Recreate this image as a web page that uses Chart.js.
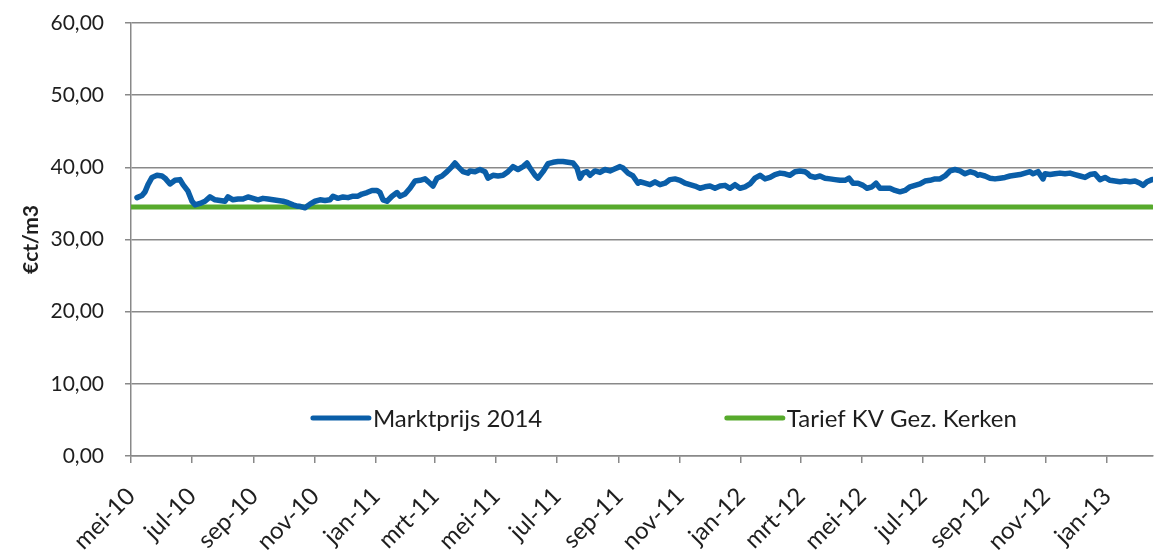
<!DOCTYPE html>
<html lang="nl">
<head>
<meta charset="utf-8">
<title>Marktprijs gas</title>
<script src="https://cdn.jsdelivr.net/npm/chart.js@4"></script>
<style>
    body { margin: 0; background: #fff; }
    #wrap { width: 1157px; height: 551px; position: relative; }
</style>
</head>
<body>
<div id="wrap"><canvas id="prijsChart"></canvas></div>
<script>
const dagen = [
    6, 11, 14, 17, 21, 26, 31, 34, 39, 44, 49, 52, 57, 61, 64, 69, 74, 79, 84, 89,
    94, 97, 102, 107, 112, 117, 122, 127, 132, 137, 142, 147, 152, 157, 162, 167,
    169, 174, 179, 184, 189, 194, 199, 202, 207, 212, 217, 222, 227, 231, 236, 241,
    246, 249, 252, 256, 261, 266, 269, 274, 279, 284, 289, 294, 299, 302, 306, 311,
    316, 321, 324, 327, 332, 337,
    339, 344, 349, 354, 357, 362, 367, 372, 377, 382, 387, 392, 396, 399, 404, 407,
    412, 417, 422, 427, 432, 437, 442, 446, 449, 452, 456, 459, 464, 469, 474, 479,
    484, 489, 492, 497, 502, 507,
    509, 514, 519, 524, 529, 534, 539, 544, 549, 554, 559, 564, 569, 574, 579, 584,
    589, 594, 599, 604, 609, 614, 619, 624, 629, 634, 639, 644, 649, 654, 659, 664,
    669, 674, 677,
    679, 684, 689, 694, 699, 704, 709, 714, 718, 722, 727, 732, 736, 741, 745, 749,
    754, 759, 764, 769, 774, 779, 784, 789, 794, 799, 804, 809, 814, 819, 824, 829,
    834, 839, 844, 847,
    849, 854, 859, 864, 869, 874, 879, 884, 889, 894, 899, 902, 907, 912, 914, 919,
    924, 929, 934, 939, 944, 949, 954, 959, 964, 969, 974, 979, 984, 989, 994, 999,
    1004, 1009, 1012, 1016, 1021
];
const marktprijs = [
    35.8, 36.1, 36.6, 37.6, 38.6, 38.9, 38.8, 38.5, 37.7, 38.2, 38.3, 37.6, 36.7, 35.3, 34.8, 35.0, 35.3, 35.9, 35.5, 35.4,
    35.3, 35.9, 35.5, 35.6, 35.6, 35.9, 35.7, 35.5, 35.7, 35.6, 35.5, 35.4, 35.3, 35.1, 34.8, 34.6,
    34.6, 34.4, 34.9, 35.3, 35.5, 35.4, 35.5, 36.0, 35.7, 35.9, 35.8, 36.0, 36.0, 36.3, 36.5, 36.8,
    36.8, 36.5, 35.5, 35.3, 36.0, 36.5, 36.0, 36.3, 37.1, 38.1, 38.2, 38.4, 37.8, 37.4, 38.5, 38.8,
    39.4, 40.1, 40.6, 40.1, 39.4, 39.2,
    39.5, 39.4, 39.7, 39.4, 38.5, 38.9, 38.8, 38.9, 39.4, 40.1, 39.7, 40.1, 40.6, 39.9, 38.9, 38.5,
    39.4, 40.5, 40.7, 40.8, 40.8, 40.7, 40.6, 39.9, 38.5, 39.2, 39.4, 38.9, 39.5, 39.3, 39.7, 39.5,
    39.8, 40.1, 39.9, 39.2, 38.8, 37.8,
    38.0, 37.8, 37.6, 38.0, 37.6, 37.8, 38.3, 38.4, 38.2, 37.8, 37.6, 37.4, 37.1, 37.3, 37.4, 37.1,
    37.4, 37.5, 37.1, 37.6, 37.1, 37.3, 37.7, 38.5, 38.9, 38.4, 38.6, 39.0, 39.2, 39.1, 38.9, 39.4,
    39.5, 39.4, 39.1,
    38.8, 38.6, 38.8, 38.5, 38.4, 38.3, 38.2, 38.2, 38.5, 37.8, 37.8, 37.5, 37.1, 37.3, 37.8, 37.1,
    37.1, 37.1, 36.8, 36.6, 36.8, 37.3, 37.5, 37.7, 38.1, 38.2, 38.4, 38.4, 38.8, 39.5, 39.7, 39.5,
    39.1, 39.4, 39.2, 38.9,
    39.0, 38.8, 38.5, 38.4, 38.5, 38.6, 38.8, 38.9, 39.0, 39.2, 39.4, 39.1, 39.4, 38.4, 39.1, 39.0,
    39.1, 39.2, 39.1, 39.2, 39.0, 38.8, 38.6, 39.0, 39.1, 38.3, 38.6, 38.2, 38.1, 38.0, 38.1, 38.0,
    38.1, 37.8, 37.5, 38.0, 38.3
];

// vast tarief over de hele periode
const tariefDagen = [0, 1021];
const tarief = [34.5, 34.5];

// as-labels
const maandDatums = [
    '2010-05-01', '2010-07-01', '2010-09-01', '2010-11-01', '2011-01-01', '2011-03-01',
    '2011-05-01', '2011-07-01', '2011-09-01', '2011-11-01', '2012-01-01', '2012-03-01',
    '2012-05-01', '2012-07-01', '2012-09-01', '2012-11-01', '2013-01-01'
];
const maandLabels = [
    'mei-10', 'jul-10', 'sep-10', 'nov-10', 'jan-11', 'mrt-11',
    'mei-11', 'jul-11', 'sep-11', 'nov-11', 'jan-12', 'mrt-12',
    'mei-12', 'jul-12', 'sep-12', 'nov-12', 'jan-13'
];
const yTicks = [0, 10, 20, 30, 40, 50, 60];

const BLAUW = '#0a5ea8';
const GROEN = '#57aa2c';
const GRIJS = '#898989';
const TEKST = '#1e1e1e';
const FONT = "Lato, 'Open Sans', sans-serif";

// datum -> dagnummer sinds 1 mei 2010
function dagNummer(datum) {
    const basis = Date.UTC(2010, 4, 1);
    const d = new Date(datum + 'T00:00:00Z').getTime();
    return Math.round((d - basis) / 86400000);
}
const tickDagen = maandDatums.map(dagNummer);

function naarPunten(xs, ys) {
    return xs.map((x, i) => ({ x: x, y: ys[i] }));
}

// legenda binnen het plotvlak, zoals in het origineel
const legendaPlugin = {
    id: 'legendaInPlot',
    afterDatasetsDraw(chart) {
        const ctx = chart.ctx;
        const area = chart.chartArea;
        const y = area.bottom - 38;
        const posities = [0.178, 0.583];
        ctx.save();
        chart.data.datasets.forEach((ds, i) => {
            const x = area.left + posities[i] * (area.right - area.left);
            ctx.strokeStyle = ds.borderColor;
            ctx.lineWidth = 5;
            ctx.lineCap = 'round';
            ctx.beginPath();
            ctx.moveTo(x, y);
            ctx.lineTo(x + 56, y);
            ctx.stroke();
            ctx.fillStyle = TEKST;
            ctx.font = '24px ' + FONT;
            ctx.textBaseline = 'middle';
            ctx.textAlign = 'left';
            ctx.fillText(ds.label, x + 60, y + 1);
        });
        ctx.restore();
    }
};

document.addEventListener('DOMContentLoaded', function() {
    const ctx = document.getElementById('prijsChart');
    new Chart(ctx, {
        type: 'line',
        data: {
            datasets: [{
                label: 'Marktprijs 2014',
                data: naarPunten(dagen, marktprijs),
                borderColor: BLAUW,
                borderWidth: 5.5,
                borderCapStyle: 'round',
                borderJoinStyle: 'round',
                pointRadius: 0,
                tension: 0,
                fill: false
            }, {
                label: 'Tarief KV Gez. Kerken',
                data: naarPunten(tariefDagen, tarief),
                borderColor: GROEN,
                borderWidth: 5,
                borderCapStyle: 'round',
                pointRadius: 0,
                fill: false
            }]
        },
        options: {
            responsive: true,
            maintainAspectRatio: false,
            animation: false,
            layout: {
                padding: { left: 0, right: 4, top: 0, bottom: 0 }
            },
            plugins: {
                legend: { display: false },
                tooltip: { enabled: false }
            },
            scales: {
                x: {
                    type: 'linear',
                    min: 0,
                    max: 1022,
                    afterBuildTicks: function(scale) {
                        scale.ticks = tickDagen.map(v => ({ value: v }));
                    },
                    // vaste hoogte onder het plotvlak
                    afterFit: function(scale) {
                        scale.paddingLeft = 0;
                        scale.height = 95;
                    },
                    ticks: {
                        autoSkip: false,
                        minRotation: 45,
                        maxRotation: 45,
                        padding: 19,
                        color: TEKST,
                        font: { family: FONT, size: 24 },
                        callback: function(value) {
                            return maandLabels[tickDagen.indexOf(value)];
                        }
                    },
                    grid: {
                        drawOnChartArea: false,
                        drawTicks: true,
                        tickLength: 7,
                        color: GRIJS,
                        lineWidth: 1.5
                    },
                    border: { color: GRIJS, width: 1.5 }
                },
                y: {
                    min: 0,
                    max: 60,
                    afterBuildTicks: function(scale) {
                        scale.ticks = yTicks.map(v => ({ value: v }));
                    },
                    // vaste breedte en bovenmarge zodat het plotvlak op dezelfde plek staat
                    afterFit: function(scale) {
                        scale.width = 131;
                        scale.paddingTop = 23;
                    },
                    ticks: {
                        padding: 21,
                        color: TEKST,
                        font: { family: FONT, size: 21 },
                        callback: function(value) {
                            return value.toFixed(2).replace('.', ',');
                        }
                    },
                    grid: {
                        color: GRIJS,
                        lineWidth: 1.5,
                        tickLength: 6
                    },
                    border: { color: GRIJS, width: 1.5 },
                    title: {
                        display: true,
                        text: '€ct/m3',
                        color: TEKST,
                        font: { family: FONT, size: 21, weight: 'bold' },
                        padding: { top: 19, bottom: 0 }
                    }
                }
            }
        },
        plugins: [legendaPlugin]
    });
});
</script>
</body>
</html>
